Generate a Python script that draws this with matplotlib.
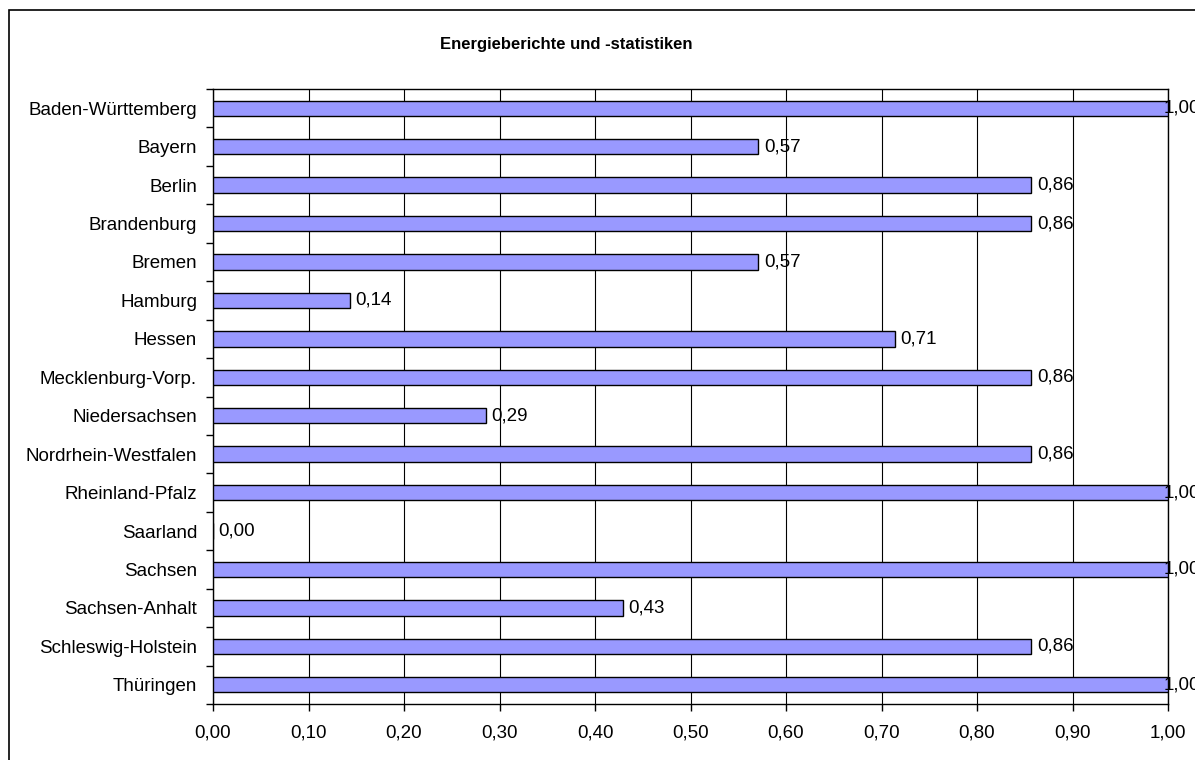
import matplotlib
matplotlib.use("Agg")
import matplotlib.pyplot as plt
import matplotlib.transforms as mtransforms
from matplotlib.patches import Rectangle
import numpy as np

plt.rcParams['font.family'] = ['Liberation Sans', 'DejaVu Sans']

# Daten
laender = ["Baden-Württemberg", "Bayern", "Berlin", "Brandenburg", "Bremen",
           "Hamburg", "Hessen", "Mecklenburg-Vorp.", "Niedersachsen",
           "Nordrhein-Westfalen", "Rheinland-Pfalz", "Saarland", "Sachsen",
           "Sachsen-Anhalt", "Schleswig-Holstein", "Thüringen"]
werte = [1.00, 0.571, 0.857, 0.857, 0.571, 0.143, 0.714, 0.857, 0.286,
         0.857, 1.00, 0.00, 1.00, 0.429, 0.857, 1.00]
xticks = [0.0, 0.1, 0.2, 0.3, 0.4, 0.5, 0.6, 0.7, 0.8, 0.9, 1.0]
titel = "Energieberichte und -statistiken"

W, H = 1195, 760
fs = 13.5
fig = plt.figure(figsize=(W / 100, H / 100), dpi=100)
ax = fig.add_axes([213 / W, 1 - 704 / H, (1168 - 213) / W, (704 - 89) / H])

y = np.arange(len(laender))
ax.barh(y, werte, height=0.4, color='#9999FF', edgecolor='#000000',
        linewidth=1.0, zorder=3)

# Wertbeschriftungen (wie in Excel: am rechten Rand nach innen geschoben)
trans_rand = mtransforms.blended_transform_factory(fig.transFigure, ax.transData)
for yi, v in zip(y, werte):
    txt = f"{v:.2f}".replace('.', ',')
    if v >= 0.99:
        fig.text(1200 / W, yi, txt, ha='right', va='center', fontsize=fs,
                 transform=trans_rand, zorder=4)
    else:
        ax.annotate(txt, (v, yi), xytext=(4, 0),
                    textcoords='offset points', va='center', ha='left',
                    fontsize=fs, annotation_clip=False, zorder=4)

ax.set_xlim(0, 1)
ax.set_ylim(len(laender) - 0.5, -0.5)
ax.set_xticks(xticks)
ax.set_xticklabels([f"{t:.2f}".replace('.', ',') for t in xticks], fontsize=fs)
ax.set_yticks(y)
ax.set_yticklabels(laender, fontsize=fs)
ax.tick_params(axis='y', length=0, pad=11.5)
ax.tick_params(axis='x', length=5, width=1, direction='out', pad=10)
# Kategoriegrenzen als Ticks
ax.set_yticks(np.arange(-0.5, len(laender), 1), minor=True)
ax.tick_params(axis='y', which='minor', length=5, width=1, direction='out')

ax.grid(axis='x', color='black', linewidth=0.8, zorder=0)
ax.set_axisbelow(True)
for s in ax.spines.values():
    s.set_linewidth(1.0)
    s.set_color('black')

fig.text(566 / W, 1 - 44 / H, titel, ha='center', va='center',
         fontsize=12, fontweight='bold')

# Rahmen um das Diagramm
fig.patches.append(Rectangle((9 / W, -0.1), 1.2, 1 - 10 / H + 0.1,
                             transform=fig.transFigure, fill=False,
                             edgecolor='black', linewidth=1.2))

fig.savefig("out.png", dpi=100)
